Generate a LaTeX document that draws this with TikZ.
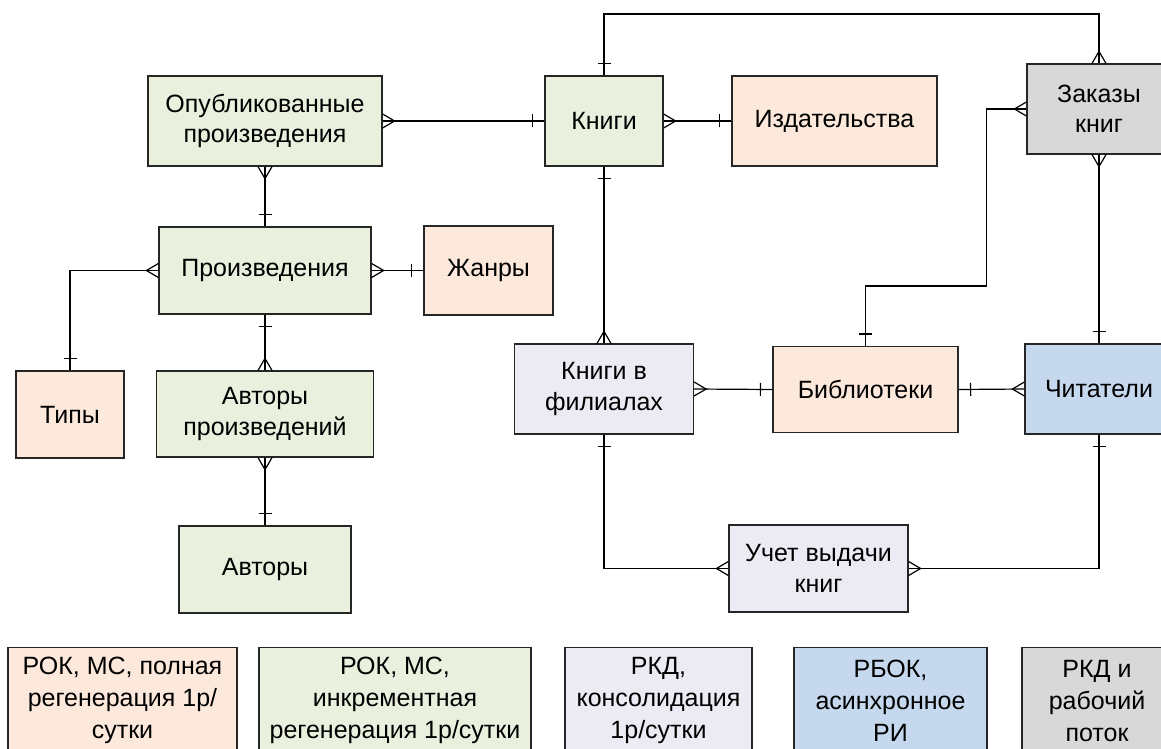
\documentclass[tikz,border=0pt]{standalone}
\usepackage{fontspec}
\setmainfont{Liberation Sans}
\usepackage{xcolor}
\usepackage{tikz}
\usetikzlibrary{decorations.markings, calc}
\definecolor{peachfill}{RGB}{252, 233, 219}
\definecolor{greenfill}{RGB}{233, 240, 222}
\definecolor{lilacfill}{RGB}{236, 234, 242}
\definecolor{bluefill}{RGB}{197, 216, 238}
\definecolor{grayfill}{RGB}{216, 216, 216}
\tikzset{
    entity/.style={draw=black!85, line width=1.2pt, align=center, inner sep=2pt, font=\fontsize{25}{30.5}\selectfont},
    legendbox/.style={entity, anchor=north, minimum height=106pt, font=\fontsize{25}{32}\selectfont},
    link/.style={line width=1.2pt},
    one start/.style={postaction={decorate, decoration={markings, mark=at position 0 with {\draw[line width=1.2pt] (12pt,-6.5pt) -- (12pt,6.5pt);}}}},
    one end/.style={postaction={decorate, decoration={markings, mark=at position 1 with {\draw[line width=1.2pt] (-12pt,-6.5pt) -- (-12pt,6.5pt);}}}},
    many start/.style={postaction={decorate, decoration={markings, mark=at position 0 with {\draw[line width=1.2pt] (0pt,-7pt) -- (12pt,0pt) -- (0pt,7pt);}}}},
    many end/.style={postaction={decorate, decoration={markings, mark=at position 1 with {\draw[line width=1.2pt] (0pt,-7pt) -- (-12pt,0pt) -- (0pt,7pt);}}}}
}

\begin{document}
\begin{tikzpicture}[x=1pt, y=-1pt]
            \useasboundingbox (0,0) rectangle (1161,749);
            \clip (0,0) rectangle (1161,749);

            \node[entity, fill=greenfill, minimum width=234pt, minimum height=90pt] (pub) at (265,121) {Опубликованные\\произведения};
            \node[entity, fill=greenfill, minimum width=118pt, minimum height=90pt] (books) at (604,121) {Книги};
            \node[entity, fill=peachfill, minimum width=205pt, minimum height=90pt] (publ) at (834.5,121) {Издательства};
            \node[entity, fill=grayfill, minimum width=144pt, minimum height=90pt] (orders) at (1099,109) {Заказы\\книг};

            \node[entity, fill=greenfill, minimum width=212pt, minimum height=87pt] (works) at (265,270.5) {Произведения};
            \node[entity, fill=peachfill, minimum width=129pt, minimum height=89pt] (genres) at (488.5,270.5) {Жанры};
            \node[entity, fill=peachfill, minimum width=108pt, minimum height=87pt] (types) at (70,414.5) {Типы};
            \node[entity, fill=greenfill, minimum width=217pt, minimum height=86pt] (workauth) at (265,414) {Авторы\\произведений};
            \node[entity, fill=greenfill, minimum width=172pt, minimum height=87pt] (authors) at (265,569.5) {Авторы};

            \node[entity, fill=lilacfill, minimum width=179pt, minimum height=90pt] (branch) at (604,389) {Книги в\\филиалах};
            \node[entity, fill=peachfill, minimum width=185pt, minimum height=86pt] (libs) at (865.5,389.5) {Библиотеки};
            \node[entity, fill=bluefill, minimum width=148pt, minimum height=90pt] (readers) at (1099,389) {Читатели};
            \node[entity, fill=lilacfill, minimum width=179pt, minimum height=87pt] (loans) at (818.5,568.5) {Учет выдачи\\книг};

            \draw[link, many start, one end] (pub.east) -- (books.west);
            \draw[link, many start, one end] (books.east) -- (publ.west);
            \draw[link, many start, one end] (pub.south) -- (works.north);
            \draw[link, many start, one end] (works.west) -| (types.north);
            \draw[link, many start, one end] (works.east) -- (genres.west);
            \draw[link, one start, many end] (works.south) -- (workauth.north);
            \draw[link, many start, one end] (workauth.south) -- (authors.north);
            \draw[link, one start, many end] (books.north) -- (books.north |- 0,14) -| (orders.north);
            \draw[link, one start, many end] (books.south) -- (branch.north);
            \draw[link, many start, one end] (orders.west) -- ++(-40,0) |- (libs.north |- 0,286) -- (libs.north);
            \draw[link, many start, one end] (orders.south) -- (readers.north);
            \draw[link, many start, one end] (branch.east) -- (libs.west);
            \draw[link, one start, many end] (libs.east) -- (readers.west);
            \draw[link, one start, many end] (branch.south) |- (loans.west);
            \draw[link, one start, many end] (readers.south) |- (loans.east);

            \node[legendbox, fill=peachfill, minimum width=229pt] (legpeach) at (122.5,647) {РОК, МС, полная\\регенерация 1р/\\сутки};
            \node[legendbox, fill=greenfill, minimum width=272pt] (leggreen) at (395,647) {РОК, МС,\\инкрементная\\регенерация 1р/сутки};
            \node[legendbox, fill=lilacfill, minimum width=187pt] (leglilac) at (658.5,647) {РКД,\\консолидация\\1р/сутки};
            \node[legendbox, fill=bluefill, minimum width=193pt] (legblue) at (890.5,647) {РБОК,\\асинхронное\\РИ};
            \node[legendbox, fill=grayfill, minimum width=150pt] (leggray) at (1097,647) {РКД и\\рабочий\\поток};
        \end{tikzpicture}
\end{document}
